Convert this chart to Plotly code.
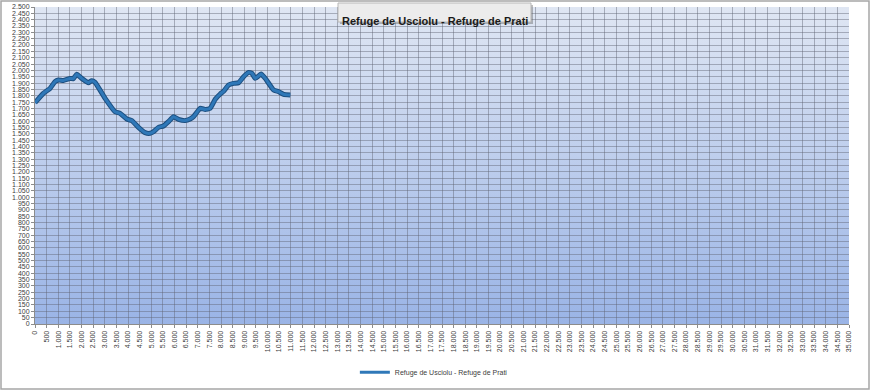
import base64
import plotly.graph_objects as go

# Distance (m) and altitude (m)
distance = [0, 358, 646, 861, 1004, 1220, 1507, 1650, 1794, 2009, 2296, 2439, 2583,
            3014, 3444, 3659, 3946, 4162, 4449, 4736, 4951, 5094, 5310, 5525, 5740,
            5955, 6170, 6457, 6673, 6816, 7103, 7319, 7534, 7749, 7964, 8108, 8323,
            8538, 8753, 8968, 9183, 9327, 9470, 9715, 9901, 10260, 10475, 10690, 10977]
altitude = [1745, 1819, 1858, 1911, 1924, 1921, 1937, 1935, 1969, 1937, 1903, 1919, 1906,
            1780, 1674, 1661, 1617, 1604, 1551, 1509, 1504, 1517, 1551, 1562, 1596,
            1635, 1614, 1604, 1617, 1635, 1701, 1692, 1701, 1772, 1814, 1835, 1885,
            1898, 1903, 1950, 1984, 1977, 1937, 1971, 1937, 1845, 1832, 1811, 1806]
series_name = "Refuge de Usciolu - Refuge de Prati"
x_max = 35000
y_max = 2500

def fmt(v):
    return f"{v:,}".replace(",", ".")

x_ticks = list(range(0, x_max + 1, 500))
x_labels = [fmt(v) for v in x_ticks]
y_ticks = list(range(0, y_max + 1, 50))
y_labels = [fmt(v) for v in y_ticks]

svg = ('<svg xmlns="http://www.w3.org/2000/svg" width="100" height="100" preserveAspectRatio="none">'
       '<defs><linearGradient id="g" x1="0" y1="0" x2="0" y2="1">'
       '<stop offset="0" stop-color="#dfe6f3"/><stop offset="1" stop-color="#9ab4e6"/>'
       '</linearGradient></defs><rect width="100" height="100" fill="url(#g)"/></svg>')
bg_src = "data:image/svg+xml;base64," + base64.b64encode(svg.encode()).decode()

fig = go.Figure()
fig.add_trace(go.Scatter(x=distance, y=altitude, mode="lines",
                         line=dict(color="#1d4f80", width=5, shape="spline", smoothing=0.4),
                         showlegend=False, hoverinfo="skip"))
fig.add_trace(go.Scatter(x=distance, y=altitude, mode="lines", name=series_name,
                         line=dict(color="#2f78b8", width=3, shape="spline", smoothing=0.4)))

shapes = []
# outer chart border
shapes.append(dict(type="rect", xref="paper", yref="paper",
                   x0=-34 / 814, x1=834 / 814, y0=-65 / 317, y1=323 / 317,
                   line=dict(color="#a6a6a6", width=1.5), fillcolor="rgba(0,0,0,0)", layer="above"))
# title shadow + box
shapes.append(dict(type="rect", xref="paper", yref="paper",
                   x0=(340 - 35) / 814, x1=(533 - 35) / 814,
                   y0=(324 - 24) / 317, y1=(324 - 5) / 317,
                   line=dict(width=0), fillcolor="rgba(90,90,90,0.4)", layer="above"))
shapes.append(dict(type="rect", xref="paper", yref="paper",
                   x0=(338 - 35) / 814, x1=(531 - 35) / 814,
                   y0=(324 - 22) / 317, y1=(324 - 3) / 317,
                   line=dict(color="#b8b8b8", width=1), fillcolor="#ececec", layer="above"))

fig.update_layout(
    width=870, height=391,
    margin=dict(l=35, r=21, t=7, b=67, autoexpand=False),
    paper_bgcolor="white", plot_bgcolor="rgba(0,0,0,0)",
    font=dict(family="Liberation Sans", size=7, color="#404040"),
    shapes=shapes,
    images=[dict(source=bg_src, xref="paper", yref="paper", x=0, y=1, sizex=1, sizey=1,
                 sizing="stretch", xanchor="left", yanchor="top", layer="below")],
    showlegend=True,
    legend=dict(orientation="h", x=0.49, xanchor="center", y=-0.152, yanchor="middle",
                font=dict(size=7, color="#404040"), bgcolor="rgba(0,0,0,0)"),
    annotations=[dict(text="<b>" + series_name + "</b>", xref="paper", yref="paper",
                      x=(434.5 - 35) / 814, y=(324 - 12.5) / 317, showarrow=False,
                      font=dict(family="Liberation Sans", size=11, color="#1a1a1a"))],
)
fig.update_xaxes(range=[0, x_max], tickvals=x_ticks, ticktext=x_labels, tickangle=-90,
                 automargin=False,
                 showgrid=True, gridcolor="rgba(95,100,115,0.45)", gridwidth=1, zeroline=False,
                 showline=True, linecolor="#8c8c8c", ticks="outside", ticklen=3,
                 tickcolor="#8c8c8c", tickfont=dict(size=7))
fig.update_yaxes(range=[0, y_max], tickvals=y_ticks, ticktext=y_labels, automargin=False,
                 showgrid=True, gridcolor="rgba(95,100,115,0.45)", gridwidth=1, zeroline=False,
                 showline=True, linecolor="#8c8c8c", ticks="outside", ticklen=3,
                 tickcolor="#8c8c8c", tickfont=dict(size=7))

fig.write_html("out.html", config={"displayModeBar": False},
               post_script="document.body.style.margin='0';")
